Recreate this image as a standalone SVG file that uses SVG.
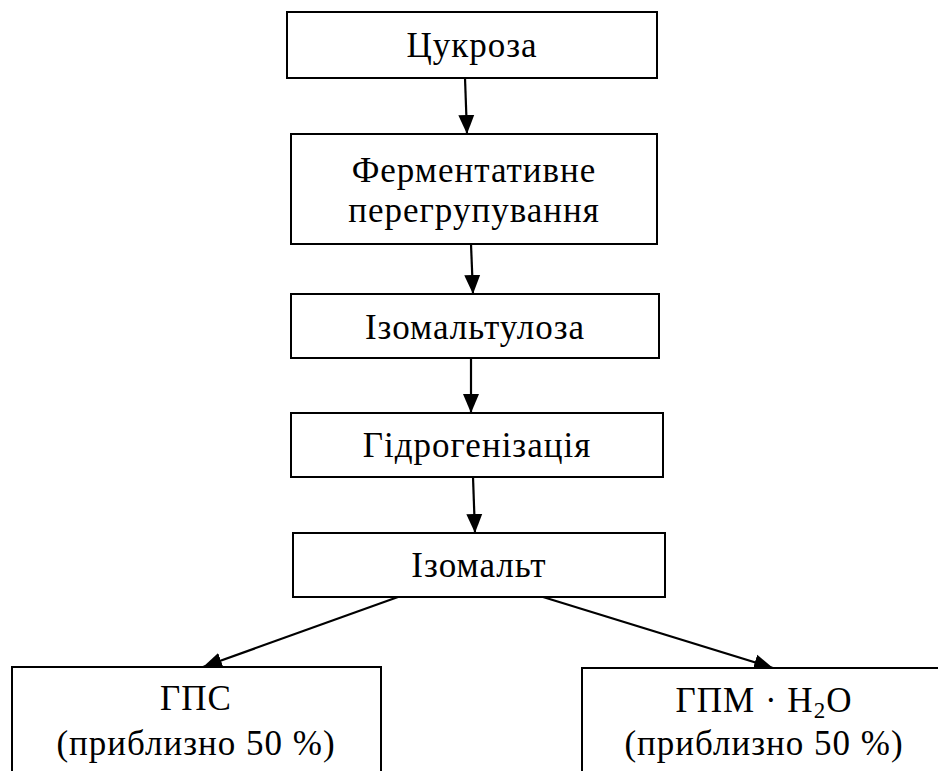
<svg xmlns="http://www.w3.org/2000/svg" width="938" height="771" viewBox="0 0 938 771">
  <style>
    .box { fill: #fff; stroke: #000; stroke-width: 2; }
    text { font-family: "Liberation Serif", "Times New Roman", serif; font-size: 35px; letter-spacing: 1px; fill: #000; text-anchor: middle; }
    .conn { stroke: #000; stroke-width: 2.2; fill: none; marker-end: url(#arrow); }
  </style>
  <defs>
    <marker id="arrow" markerUnits="userSpaceOnUse" markerWidth="20" markerHeight="18" viewBox="0 0 20 18" refX="19" refY="9" orient="auto">
      <path d="M0,1 L19,9 L0,17 Z" fill="#000"/>
    </marker>
  </defs>
  <rect width="938" height="771" fill="#fff"/>

  <!-- flow connectors -->
  <g id="connectors">
    <line class="conn" x1="465" y1="78" x2="467" y2="134"/>
    <line class="conn" x1="471" y1="244" x2="473" y2="294"/>
    <line class="conn" x1="471" y1="358" x2="471" y2="413"/>
    <line class="conn" x1="473" y1="477" x2="475" y2="533"/>
    <line class="conn" x1="398" y1="597" x2="203" y2="667"/>
    <line class="conn" x1="543" y1="597" x2="773" y2="668"/>
  </g>

  <g id="sucrose">
    <rect class="box" x="287" y="12" width="370" height="66"/>
    <text x="472" y="57">Цукроза</text>
  </g>

  <g id="enzymatic">
    <rect class="box" x="291" y="134" width="366" height="110"/>
    <text x="474" y="182">Ферментативне</text>
    <text x="474" y="222">перегрупування</text>
  </g>

  <g id="isomaltulose">
    <rect class="box" x="291" y="294" width="368" height="64"/>
    <text x="475" y="339">Ізомальтулоза</text>
  </g>

  <g id="hydrogenation">
    <rect class="box" x="291" y="413" width="372" height="64"/>
    <text x="477" y="457">Гідрогенізація</text>
  </g>

  <g id="isomalt">
    <rect class="box" x="293" y="533" width="372" height="64"/>
    <text x="479" y="577">Ізомальт</text>
  </g>

  <g id="gps">
    <rect class="box" x="12" y="667" width="369" height="120"/>
    <text x="196" y="710">ГПС</text>
    <text x="196" y="755">(приблизно 50 %)</text>
  </g>

  <g id="gpm">
    <rect class="box" x="582" y="668" width="380" height="120"/>
    <text x="764" y="712">ГПМ · H<tspan font-size="23" dy="6">2</tspan><tspan dy="-6">O</tspan></text>
    <text x="764" y="755">(приблизно 50 %)</text>
  </g>
</svg>
